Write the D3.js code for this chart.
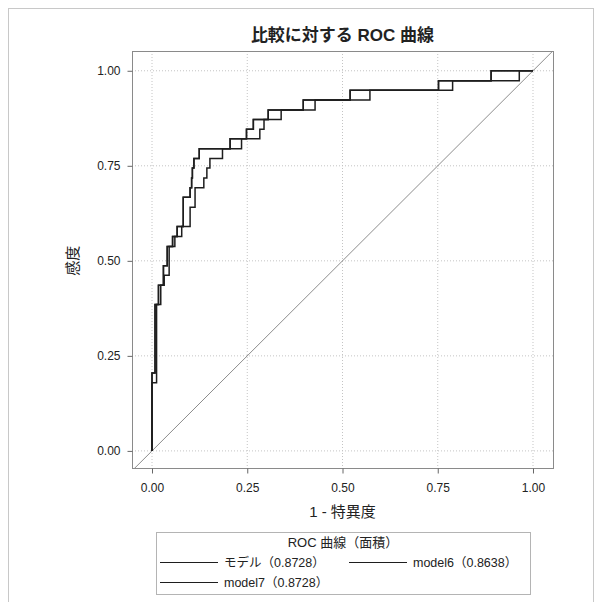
<!DOCTYPE html>
<html>
<head>
<meta charset="utf-8">
<script src="https://cdn.jsdelivr.net/npm/d3@7"></script>
<style>
	body { margin: 0; background: #fff; }
	text { font-family: "Liberation Sans", "Noto Sans CJK JP", sans-serif; fill: #222; }
	.grid line { stroke: #c4c4c4; stroke-dasharray: 1,2; }
	.axis line { stroke: #666; }
	.axis text { font-size: 12px; }
</style>
</head>
<body>
<script>
// ROC points (1 - specificity, sensitivity)
// モデル and model7 have the same area, so their curves lie on top of each other
const modelCurve = [
	[0, 0], [0, 0.205], [0.008, 0.385], [0.017, 0.436], [0.030, 0.487], [0.040, 0.538],
	[0.054, 0.564], [0.066, 0.590], [0.082, 0.667], [0.100, 0.692], [0.104, 0.718],
	[0.106, 0.744], [0.110, 0.769], [0.124, 0.795], [0.205, 0.821], [0.248, 0.846],
	[0.266, 0.872], [0.305, 0.897], [0.397, 0.923], [0.520, 0.949], [0.752, 0.974],
	[0.890, 1], [1, 1]
];
const model6Curve = [
	[0, 0], [0, 0.179], [0.012, 0.385], [0.023, 0.436], [0.032, 0.462], [0.045, 0.538],
	[0.060, 0.564], [0.078, 0.590], [0.100, 0.641], [0.113, 0.692], [0.136, 0.718],
	[0.144, 0.744], [0.152, 0.769], [0.185, 0.795], [0.235, 0.821], [0.283, 0.846],
	[0.294, 0.872], [0.339, 0.897], [0.428, 0.923], [0.572, 0.949], [0.789, 0.974],
	[0.964, 1], [1, 1]
];
const model7Curve = modelCurve.map(p => p.slice());

const tickValues = [0, 0.25, 0.5, 0.75, 1];
const legendTitle = "ROC 曲線（面積）";
const legendLabels = ["モデル（0.8728）", "model6（0.8638）", "model7（0.8728）"];
const chartTitle = "比較に対する ROC 曲線";
const xLabel = "1 - 特異度";
const yLabel = "感度";

/** Draws the ROC comparison chart */
class RocChart {
	constructor() {
		this.width = 603;
		this.height = 602;
		// plot frame
		this.left = 132;
		this.right = 553;
		this.top = 51;
		this.bottom = 468;

		this.x = d3.scaleLinear().domain([-0.0525, 1.0525]).range([this.left, this.right]);
		this.y = d3.scaleLinear().domain([-0.045, 1.052]).range([this.bottom, this.top]);
	}

	render() {
		let svg = d3.select("body").append("svg")
			.attr("width", this.width)
			.attr("height", this.height);

		// outer border
		svg.append("rect")
			.attr("x", 8.5).attr("y", 8.5)
			.attr("width", 585).attr("height", 600)
			.attr("fill", "none").attr("stroke", "#c8c8c8");

		this.renderGrid(svg);
		this.renderAxes(svg);
		this.renderCurves(svg);
		this.renderLabels(svg);
		this.renderLegend(svg);
	}

	renderGrid(svg) {
		let g = svg.append("g").attr("class", "grid");
		g.selectAll(".gx").data(tickValues).enter().append("line")
			.attr("x1", d => this.x(d)).attr("x2", d => this.x(d))
			.attr("y1", this.top).attr("y2", this.bottom);
		g.selectAll(".gy").data(tickValues).enter().append("line")
			.attr("y1", d => this.y(d)).attr("y2", d => this.y(d))
			.attr("x1", this.left).attr("x2", this.right);

		svg.append("rect")
			.attr("x", this.left + 0.5).attr("y", this.top + 0.5)
			.attr("width", this.right - this.left).attr("height", this.bottom - this.top)
			.attr("fill", "none").attr("stroke", "#8a8a8a");
	}

	renderAxes(svg) {
		let fmt = d3.format(".2f");
		let xAxis = d3.axisBottom(this.x).tickValues(tickValues).tickFormat(fmt)
			.tickSize(5).tickPadding(10);
		let yAxis = d3.axisLeft(this.y).tickValues(tickValues).tickFormat(fmt)
			.tickSize(5).tickPadding(7);

		svg.append("g").attr("class", "axis")
			.attr("transform", `translate(0,${this.bottom + 0.5})`)
			.call(xAxis)
			.call(g => g.select(".domain").remove());
		svg.append("g").attr("class", "axis")
			.attr("transform", `translate(${this.left + 0.5},0)`)
			.call(yAxis)
			.call(g => g.select(".domain").remove());
	}

	renderCurves(svg) {
		svg.append("clipPath").attr("id", "frame")
			.append("rect")
			.attr("x", this.left).attr("y", this.top)
			.attr("width", this.right - this.left).attr("height", this.bottom - this.top);

		let plot = svg.append("g").attr("clip-path", "url(#frame)");

		// chance diagonal across the whole frame
		let ends = [-0.06, 1.06];
		plot.append("line")
			.attr("x1", this.x(ends[0])).attr("y1", this.y(ends[0]))
			.attr("x2", this.x(ends[1])).attr("y2", this.y(ends[1]))
			.attr("stroke", "#8c8c8c").attr("stroke-width", 1);

		let line = d3.line()
			.x(d => this.x(d[0]))
			.y(d => this.y(d[1]))
			.curve(d3.curveStepAfter);

		for (let curve of [model6Curve, model7Curve, modelCurve]) {
			plot.append("path")
				.attr("d", line(curve))
				.attr("fill", "none")
				.attr("stroke", "#1e1e1e")
				.attr("stroke-width", 1.5);
		}
	}

	renderLabels(svg) {
		let cx = (this.left + this.right) / 2;
		svg.append("text")
			.attr("x", cx).attr("y", 41)
			.attr("text-anchor", "middle")
			.style("font-size", "17px").style("font-weight", "bold")
			.text(chartTitle);

		svg.append("text")
			.attr("x", cx).attr("y", 517)
			.attr("text-anchor", "middle")
			.style("font-size", "15px")
			.text(xLabel);

		let cy = (this.y(0) + this.y(1)) / 2;
		svg.append("text")
			.attr("transform", `translate(78,${cy}) rotate(-90)`)
			.attr("text-anchor", "middle")
			.style("font-size", "15px")
			.text(yLabel);
	}

	renderLegend(svg) {
		let g = svg.append("g");
		g.append("rect")
			.attr("x", 156.5).attr("y", 532.5)
			.attr("width", 374).attr("height", 62)
			.attr("fill", "none").attr("stroke", "#b4b4b4");

		g.append("text")
			.attr("x", 343).attr("y", 547)
			.attr("text-anchor", "middle")
			.style("font-size", "13px")
			.text(legendTitle);

		let items = [
			{ x: 160, y: 562 },
			{ x: 349, y: 562 },
			{ x: 160, y: 582 }
		];
		legendLabels.forEach((label, i) => {
			let it = items[i];
			g.append("line")
				.attr("x1", it.x).attr("x2", it.x + 58)
				.attr("y1", it.y + 0.5).attr("y2", it.y + 0.5)
				.attr("stroke", "#1e1e1e").attr("stroke-width", 1.2);
			g.append("text")
				.attr("x", it.x + 64).attr("y", it.y + 4.5)
				.style("font-size", "12.5px")
				.text(label);
		});
	}
}

let chart = new RocChart();
chart.render();
</script>
</body>
</html>
